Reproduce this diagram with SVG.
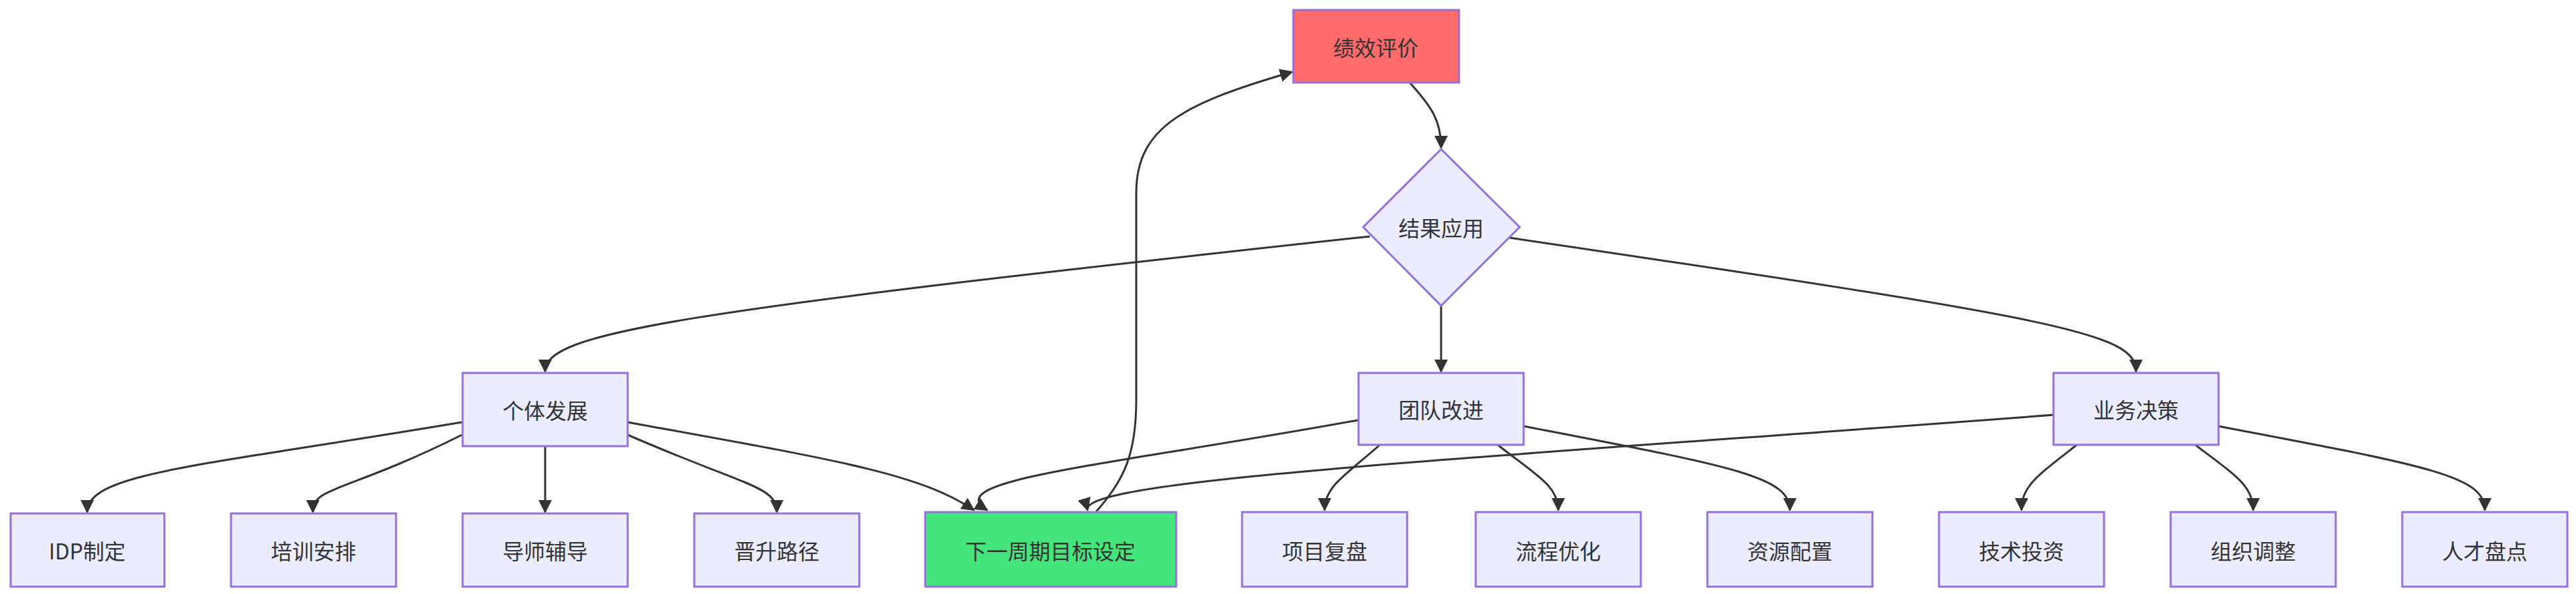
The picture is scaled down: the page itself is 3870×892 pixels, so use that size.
<svg xmlns="http://www.w3.org/2000/svg" width="3870" height="892" viewBox="0 0 3870 892">
<style>
.n{fill:#ECECFF;stroke:#9370DB;stroke-width:3}
.t{font-family:"Noto Sans CJK SC","Noto Sans",sans-serif;font-size:32px;fill:#333;text-anchor:middle;dominant-baseline:central}
.e{fill:none;stroke:#333;stroke-width:3}
</style>
<defs>
<marker id="a" markerUnits="userSpaceOnUse" markerWidth="20" markerHeight="20" viewBox="0 0 10 10" refX="9" refY="5" orient="auto"><path d="M0,0 L10,5 L0,10 z" fill="#333"/></marker>
</defs>
<rect width="3870" height="892" fill="#fff"/>
<g id="connectors">
<path class="e" marker-end="url(#a)" d="M2118,124 C2150,160 2165,180 2165,222"/>
<path class="e" marker-end="url(#a)" d="M2058,355 C1000,470 819,500 819,558"/>
<path class="e" marker-end="url(#a)" d="M2165,459 L2165,558"/>
<path class="e" marker-end="url(#a)" d="M2268,357 C3100,480 3209,500 3209,558"/>
<path class="e" marker-end="url(#a)" d="M694,634 C300,700 131,710 131,769"/>
<path class="e" marker-end="url(#a)" d="M694,653 C520,740 470,730 470,769"/>
<path class="e" marker-end="url(#a)" d="M819,670 L819,769"/>
<path class="e" marker-end="url(#a)" d="M943,653 C1120,730 1167,730 1167,769"/>
<path class="e" marker-end="url(#a)" d="M943,634 C1250,690 1380,710 1463,766"/>
<path class="e" marker-end="url(#a)" d="M2040,631 C1660,700 1410,720 1483,766"/>
<path class="e" marker-end="url(#a)" d="M2073,668 C2020,715 1990,730 1990,766"/>
<path class="e" marker-end="url(#a)" d="M2250,668 C2310,715 2341,730 2341,766"/>
<path class="e" marker-end="url(#a)" d="M2289,640 C2600,700 2689,715 2689,766"/>
<path class="e" marker-end="url(#a)" d="M3085,623 C2200,690 1620,720 1634,766"/>
<path class="e" marker-end="url(#a)" d="M3120,668 C3060,715 3037,730 3037,766"/>
<path class="e" marker-end="url(#a)" d="M3298,668 C3360,715 3385,730 3385,766"/>
<path class="e" marker-end="url(#a)" d="M3333,640 C3650,700 3733,715 3733,766"/>
<path class="e" marker-end="url(#a)" d="M1647,768 C1690,720 1707,680 1707,600 L1707,290 C1707,190 1780,155 1941,108"/>
</g>
<g id="n1"><rect x="1943" y="15" width="249" height="109" fill="#FF6B6B" stroke="#9370DB" stroke-width="3"/><text class="t" x="2067" y="70">绩效评价</text></g>
<g id="n2"><polygon class="n" points="2165,224 2283,341 2165,459 2048,341"/><text class="t" x="2165" y="341">结果应用</text></g>
<g id="n3"><rect class="n" x="695" y="560" width="248" height="110"/><text class="t" x="819" y="615">个体发展</text></g>
<g id="n4"><rect class="n" x="2041" y="560" width="248" height="108"/><text class="t" x="2165" y="614">团队改进</text></g>
<g id="n5"><rect class="n" x="3085" y="560" width="248" height="108"/><text class="t" x="3209" y="614">业务决策</text></g>
<g id="n6"><rect class="n" x="16" y="771" width="231" height="110"/><text class="t" x="131" y="826">IDP制定</text></g>
<g id="n7"><rect class="n" x="347" y="771" width="248" height="110"/><text class="t" x="471" y="826">培训安排</text></g>
<g id="n8"><rect class="n" x="695" y="771" width="248" height="110"/><text class="t" x="819" y="826">导师辅导</text></g>
<g id="n9"><rect class="n" x="1043" y="771" width="248" height="110"/><text class="t" x="1167" y="826">晋升路径</text></g>
<g id="n10"><rect x="1390" y="769" width="377" height="112" fill="#44E67C" stroke="#9370DB" stroke-width="3"/><text class="t" x="1578" y="826">下一周期目标设定</text></g>
<g id="n11"><rect class="n" x="1866" y="769" width="248" height="112"/><text class="t" x="1990" y="826">项目复盘</text></g>
<g id="n12"><rect class="n" x="2217" y="769" width="248" height="112"/><text class="t" x="2341" y="826">流程优化</text></g>
<g id="n13"><rect class="n" x="2565" y="769" width="248" height="112"/><text class="t" x="2689" y="826">资源配置</text></g>
<g id="n14"><rect class="n" x="2913" y="769" width="248" height="112"/><text class="t" x="3037" y="826">技术投资</text></g>
<g id="n15"><rect class="n" x="3261" y="769" width="248" height="112"/><text class="t" x="3385" y="826">组织调整</text></g>
<g id="n16"><rect class="n" x="3609" y="769" width="248" height="112"/><text class="t" x="3733" y="826">人才盘点</text></g>
</svg>
